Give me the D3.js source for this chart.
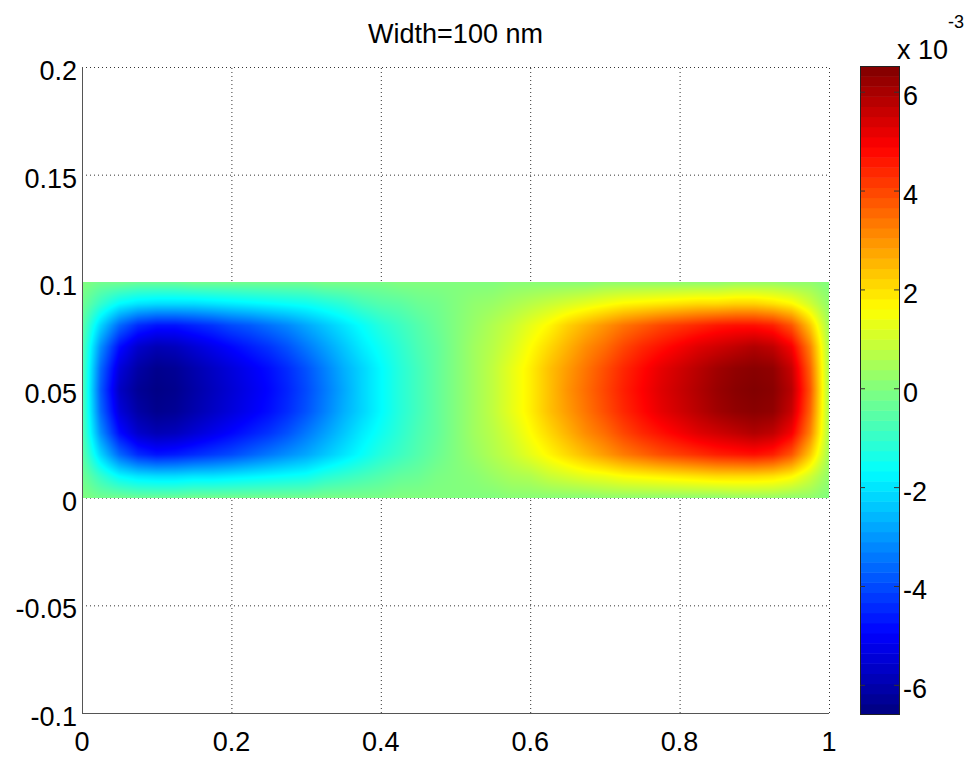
<!DOCTYPE html>
<html>
<head>
<meta charset="utf-8">
<script src="https://cdn.jsdelivr.net/npm/d3@7"></script>
<style>
  body { margin: 0; background: #fff; }
  text { font-family: "Liberation Sans", Arial, Helvetica, sans-serif; fill: #000; }
</style>
</head>
<body>
<svg id="chart" width="973" height="760"></svg>
<script>

// grid node positions (x along the strip, y across it)
var xNodes = [0, 0.025, 0.05, 0.075, 0.1, 0.125, 0.15, 0.175, 0.2, 0.225, 0.25, 0.275, 0.3, 0.325, 0.35, 0.375, 0.4, 0.425, 0.45, 0.475, 0.5,
              0.525, 0.55, 0.575, 0.6, 0.625, 0.65, 0.675, 0.7, 0.725, 0.75, 0.775, 0.8, 0.825, 0.85, 0.875, 0.9, 0.925, 0.95, 0.975, 1];
var yNodes = [0, 0.01, 0.02, 0.03, 0.04, 0.05, 0.06, 0.07, 0.08, 0.09, 0.1];

// field values (x 10^-3), one row per y node
var row000 = [-0.0, -0.2, -0.2, -0.3, -0.3, -0.3, -0.2, -0.2, -0.2, -0.2, -0.2, -0.2, -0.2, -0.1, -0.1, -0.1, -0.1, 0.0, 0.0, 0.0, 0.0,
              0.0, 0.0, 0.1, 0.1, 0.1, 0.1, 0.1, 0.2, 0.2, 0.2, 0.2, 0.2, 0.2, 0.2, 0.3, 0.3, 0.3, 0.2, 0.2, 0.0];
var row001 = [-0.2, -1.0, -1.7, -2.0, -2.1, -2.1, -2.0, -2.0, -1.9, -1.8, -1.7, -1.6, -1.5, -1.2, -1.0, -0.8, -0.6, -0.4, -0.3, -0.1, 0.0,
              0.1, 0.3, 0.5, 0.6, 0.9, 1.1, 1.3, 1.4, 1.6, 1.7, 1.8, 1.9, 2.0, 2.1, 2.1, 2.1, 2.0, 1.7, 1.0, 0.2];
var row002 = [-0.4, -2.2, -3.6, -4.4, -4.7, -4.6, -4.4, -4.2, -4.0, -3.7, -3.4, -3.1, -2.8, -2.4, -2.0, -1.6, -1.2, -0.9, -0.6, -0.3, 0.0,
              0.3, 0.6, 0.9, 1.3, 1.7, 2.1, 2.5, 2.9, 3.3, 3.6, 3.9, 4.1, 4.3, 4.5, 4.6, 4.7, 4.5, 3.8, 2.3, 0.4];
var row003 = [-0.5, -3.1, -4.8, -5.6, -5.9, -5.8, -5.5, -5.2, -4.9, -4.6, -4.3, -3.9, -3.4, -2.9, -2.4, -1.9, -1.5, -1.1, -0.7, -0.4, 0.0,
              0.4, 0.7, 1.1, 1.6, 2.1, 2.6, 3.1, 3.5, 4.0, 4.4, 4.7, 5.0, 5.3, 5.5, 5.7, 5.9, 5.7, 5.0, 3.2, 0.5];
var row004 = [-0.5, -3.6, -5.4, -6.1, -6.4, -6.3, -6.0, -5.7, -5.4, -5.1, -4.8, -4.4, -3.9, -3.3, -2.7, -2.2, -1.7, -1.2, -0.8, -0.4, 0.0,
              0.4, 0.8, 1.3, 1.8, 2.4, 2.9, 3.4, 3.9, 4.4, 4.8, 5.2, 5.5, 5.8, 6.1, 6.3, 6.4, 6.3, 5.6, 3.6, 0.5];
var row005 = [-0.5, -3.8, -5.7, -6.3, -6.5, -6.4, -6.1, -5.8, -5.5, -5.2, -4.9, -4.5, -4.0, -3.4, -2.8, -2.2, -1.7, -1.2, -0.8, -0.4, 0.0,
              0.4, 0.8, 1.3, 1.8, 2.4, 3.0, 3.5, 4.0, 4.5, 4.9, 5.3, 5.6, 5.9, 6.2, 6.4, 6.5, 6.4, 5.8, 3.8, 0.5];
var row006 = [-0.5, -3.6, -5.4, -6.1, -6.4, -6.3, -6.0, -5.7, -5.4, -5.1, -4.8, -4.4, -3.9, -3.3, -2.7, -2.2, -1.7, -1.2, -0.8, -0.4, 0.0,
              0.4, 0.8, 1.3, 1.8, 2.4, 2.9, 3.4, 3.9, 4.4, 4.8, 5.2, 5.5, 5.8, 6.1, 6.3, 6.4, 6.3, 5.6, 3.6, 0.5];
var row007 = [-0.5, -3.1, -4.8, -5.6, -5.9, -5.8, -5.5, -5.2, -4.9, -4.6, -4.3, -3.9, -3.4, -2.9, -2.4, -1.9, -1.5, -1.1, -0.7, -0.4, 0.0,
              0.4, 0.7, 1.1, 1.6, 2.1, 2.6, 3.1, 3.5, 4.0, 4.4, 4.7, 5.0, 5.3, 5.5, 5.7, 5.9, 5.7, 5.0, 3.2, 0.5];
var row008 = [-0.4, -2.2, -3.6, -4.4, -4.7, -4.7, -4.5, -4.3, -4.0, -3.8, -3.5, -3.2, -2.8, -2.4, -2.0, -1.6, -1.2, -0.9, -0.6, -0.3, 0.0,
              0.3, 0.6, 0.9, 1.3, 1.7, 2.2, 2.6, 3.0, 3.4, 3.7, 4.0, 4.2, 4.4, 4.6, 4.7, 4.7, 4.5, 3.8, 2.3, 0.4];
var row009 = [-0.2, -1.0, -1.7, -2.0, -2.1, -2.1, -2.1, -2.0, -1.9, -1.8, -1.7, -1.6, -1.5, -1.3, -1.1, -0.8, -0.6, -0.5, -0.3, -0.2, 0.0,
              0.2, 0.3, 0.5, 0.7, 0.9, 1.1, 1.3, 1.5, 1.7, 1.8, 1.9, 2.0, 2.1, 2.1, 2.2, 2.2, 2.0, 1.7, 1.0, 0.2];
var row010 = [-0.0, -0.2, -0.2, -0.3, -0.3, -0.3, -0.2, -0.2, -0.2, -0.2, -0.2, -0.2, -0.2, -0.1, -0.1, -0.1, -0.1, 0.0, 0.0, 0.0, 0.0,
              0.0, 0.0, 0.1, 0.1, 0.1, 0.1, 0.1, 0.2, 0.2, 0.2, 0.2, 0.2, 0.2, 0.2, 0.3, 0.3, 0.3, 0.2, 0.2, 0.0];

// colour limits and ticks
var colorLimits = [-6.58, 6.53];
var xTicks = [0, 0.2, 0.4, 0.6, 0.8, 1];
var yTicks = [-0.1, -0.05, 0, 0.05, 0.1, 0.15, 0.2];
var cbTicks = [-6, -4, -2, 0, 2, 4, 6];
var titleText = "Width=100 nm";

var field = [row000, row001, row002, row003, row004, row005, row006, row007, row008, row009, row010];

var svg = d3.select("#chart");

var x = d3.scaleLinear().domain([0, 1]).range([82, 829]);
var y = d3.scaleLinear().domain([-0.1, 0.2]).range([713, 67]);
var cb = d3.scaleLinear().domain(colorLimits).range([714, 66]);

// matlab jet colormap
function jet(t) {
    t = Math.max(0, Math.min(1, t));
    var c = function(v) { return Math.round(255 * Math.max(0, Math.min(1, v))); };
    return [c(1.5 - Math.abs(4 * t - 3)), c(1.5 - Math.abs(4 * t - 2)), c(1.5 - Math.abs(4 * t - 1))];
}
var tScale = d3.scaleLinear().domain(colorLimits).range([0, 1]).clamp(true);

// Grid lines (dotted).
var grid = svg.append("g").attr("class", "grid")
    .attr("stroke", "#333").attr("stroke-width", 1).attr("stroke-dasharray", "1,3");
grid.selectAll("line.gx").data(xTicks.filter(function(d) { return d > 0; }))
    .enter().append("line").attr("class", "gx")
    .attr("x1", function(d) { return x(d) + 0.5; }).attr("x2", function(d) { return x(d) + 0.5; })
    .attr("y1", y(-0.1)).attr("y2", y(0.2));
grid.selectAll("line.gy").data(yTicks.filter(function(d) { return d > -0.1; }))
    .enter().append("line").attr("class", "gy")
    .attr("y1", function(d) { return y(d) + 0.5; }).attr("y2", function(d) { return y(d) + 0.5; })
    .attr("x1", x(0)).attr("x2", x(1));

// Field: interpolated shading between grid nodes, like shading interp.
var fx0 = Math.round(x(xNodes[0])), fx1 = Math.round(x(xNodes[xNodes.length - 1]));
var fy0 = Math.round(y(yNodes[yNodes.length - 1])), fy1 = Math.round(y(yNodes[0]));
var cw = fx1 - fx0, ch = fy1 - fy0;
var canvas = document.createElement("canvas");
canvas.width = cw; canvas.height = ch;
var ctx = canvas.getContext("2d");
var img = ctx.createImageData(cw, ch);
function locate(nodes, v) {
    var i = Math.min(nodes.length - 2, Math.max(0, d3.bisectRight(nodes, v) - 1));
    var f = (v - nodes[i]) / (nodes[i + 1] - nodes[i]);
    return [i, Math.max(0, Math.min(1, f))];
}
for (var j = 0; j < ch; j++) {
    var yv = y.invert(fy0 + j + 0.5);
    var ly = locate(yNodes, yv);
    for (var i = 0; i < cw; i++) {
        var xv = x.invert(fx0 + i + 0.5);
        var lx = locate(xNodes, xv);
        var a = field[ly[0]][lx[0]], b = field[ly[0]][lx[0] + 1],
            c = field[ly[0] + 1][lx[0]], d = field[ly[0] + 1][lx[0] + 1];
        var v = (a * (1 - lx[1]) + b * lx[1]) * (1 - ly[1]) + (c * (1 - lx[1]) + d * lx[1]) * ly[1];
        var rgb = jet(tScale(v));
        var k = (j * cw + i) * 4;
        img.data[k] = rgb[0]; img.data[k + 1] = rgb[1]; img.data[k + 2] = rgb[2]; img.data[k + 3] = 255;
    }
}
ctx.putImageData(img, 0, 0);
svg.append("image")
    .attr("x", fx0).attr("y", fy0).attr("width", cw).attr("height", ch)
    .attr("preserveAspectRatio", "none")
    .attr("href", canvas.toDataURL());

// Axis lines (left and bottom only).
svg.append("line").attr("x1", x(0) + 0.5).attr("x2", x(0) + 0.5).attr("y1", y(0.2)).attr("y2", y(-0.1))
    .attr("stroke", "#555").attr("stroke-width", 1);
svg.append("line").attr("x1", x(0)).attr("x2", x(1)).attr("y1", y(-0.1) + 0.5).attr("y2", y(-0.1) + 0.5)
    .attr("stroke", "#555").attr("stroke-width", 1);

// Tick labels (plain hyphen minus, as in the original).
svg.selectAll("text.xt").data(xTicks).enter().append("text").attr("class", "xt")
    .attr("x", function(d) { return x(d); }).attr("y", 751)
    .attr("text-anchor", "middle").attr("font-size", 27)
    .text(function(d) { return String(d); });
svg.selectAll("text.yt").data(yTicks).enter().append("text").attr("class", "yt")
    .attr("x", 77).attr("y", function(d) { return y(d) + 13; })
    .attr("text-anchor", "end").attr("font-size", 27)
    .text(function(d) { return String(d); });

// Title.
svg.append("text").attr("x", (x(0) + x(1)) / 2).attr("y", 43)
    .attr("text-anchor", "middle").attr("font-size", 27).text(titleText);

// Colorbar with 64 bands.
var nBands = 64;
var bandEdges = d3.range(nBands + 1).map(function(k) {
    return colorLimits[0] + k * (colorLimits[1] - colorLimits[0]) / nBands;
});
var cbx0 = 860, cbw = 39;
var bar = svg.append("g").attr("class", "colorbar");
bar.selectAll("rect.band").data(d3.range(nBands)).enter().append("rect").attr("class", "band")
    .attr("x", cbx0).attr("width", cbw)
    .attr("y", function(k) { return cb(bandEdges[k + 1]); })
    .attr("height", function(k) { return cb(bandEdges[k]) - cb(bandEdges[k + 1]) + 0.5; })
    .attr("fill", function(k) { var c = jet((k + 0.5) / nBands); return "rgb(" + c.join(",") + ")"; });
bar.append("rect").attr("x", cbx0 + 0.5).attr("y", cb(colorLimits[1]) + 0.5)
    .attr("width", cbw).attr("height", cb(colorLimits[0]) - cb(colorLimits[1]))
    .attr("fill", "none").attr("stroke", "#222").attr("stroke-width", 1);
bar.selectAll("line.tl").data(cbTicks).enter().append("line").attr("class", "tl")
    .attr("x1", cbx0).attr("x2", cbx0 + 5)
    .attr("y1", function(d) { return cb(d); }).attr("y2", function(d) { return cb(d); })
    .attr("stroke", "#333");
bar.selectAll("line.tr").data(cbTicks).enter().append("line").attr("class", "tr")
    .attr("x1", cbx0 + cbw - 5).attr("x2", cbx0 + cbw)
    .attr("y1", function(d) { return cb(d); }).attr("y2", function(d) { return cb(d); })
    .attr("stroke", "#333");
bar.selectAll("text.ct").data(cbTicks).enter().append("text").attr("class", "ct")
    .attr("x", 903).attr("y", function(d) { return cb(d) + 13; })
    .attr("font-size", 27)
    .text(function(d) { return String(d); });

// Exponent label.
svg.append("text").attr("x", 897).attr("y", 59).attr("font-size", 27).text("x 10");
svg.append("text").attr("x", 948).attr("y", 28).attr("font-size", 18).text("-3");

</script>
</body>
</html>
